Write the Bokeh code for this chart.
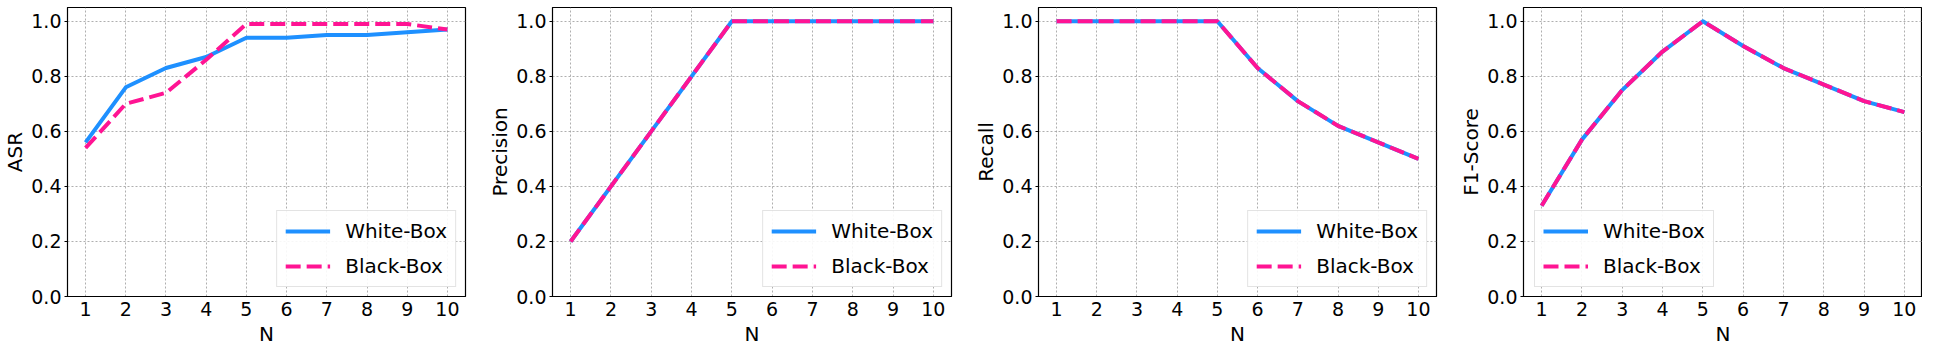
from bokeh.plotting import figure
from bokeh.layouts import row
from bokeh.models import FixedTicker, PrintfTickFormatter, Range1d, Legend, LegendItem
from bokeh.embed import file_html
from bokeh.resources import INLINE

N = [1, 2, 3, 4, 5, 6, 7, 8, 9, 10]

asr_white = [0.56, 0.76, 0.83, 0.87, 0.94, 0.94, 0.95, 0.95, 0.96, 0.97]
asr_black = [0.54, 0.70, 0.74, 0.86, 0.99, 0.99, 0.99, 0.99, 0.99, 0.97]

precision_white = [0.2, 0.4, 0.6, 0.8, 1.0, 1.0, 1.0, 1.0, 1.0, 1.0]
precision_black = [0.2, 0.4, 0.6, 0.8, 1.0, 1.0, 1.0, 1.0, 1.0, 1.0]

recall_white = [1.0, 1.0, 1.0, 1.0, 1.0, 0.83, 0.71, 0.62, 0.56, 0.50]
recall_black = [1.0, 1.0, 1.0, 1.0, 1.0, 0.83, 0.71, 0.62, 0.56, 0.50]

f1_white = [0.33, 0.57, 0.75, 0.89, 1.0, 0.91, 0.83, 0.77, 0.71, 0.67]
f1_black = [0.33, 0.57, 0.75, 0.89, 1.0, 0.91, 0.83, 0.77, 0.71, 0.67]

y_ticks = [0.0, 0.2, 0.4, 0.6, 0.8, 1.0]
series_names = ["White-Box", "Black-Box"]

# (y label, white, black, legend location, fig width, left border, right border)
panels = [
    ("ASR", asr_white, asr_black, "bottom_right", 485, 60, 20),
    ("Precision", precision_white, precision_black, "bottom_right", 486, 61, 20),
    ("Recall", recall_white, recall_black, "bottom_right", 485, 60, 20),
    ("F1-Score", f1_white, f1_black, "bottom_left", 466, 61, 0),
]

FONT = "DejaVu Sans"
BLUE = "#1e90ff"
PINK = "#ff1493"

figs = []
for ylabel, wb, bb, loc, w, bl, br in panels:
    p = figure(width=w, height=349, output_backend="svg",
               toolbar_location=None, x_range=Range1d(0.55, 10.45),
               y_range=Range1d(0, 1.05), min_border_left=bl,
               min_border_right=br, min_border_top=7, min_border_bottom=53)
    p.outline_line_color = "black"
    p.outline_line_width = 1.2
    for ax in (p.xaxis, p.yaxis):
        ax.axis_label_text_font = FONT
        ax.axis_label_text_font_size = "20px"
        ax.axis_label_text_font_style = "normal"
        ax.axis_label_text_color = "black"
        ax.major_label_text_font = FONT
        ax.major_label_text_font_size = "19px"
        ax.major_label_text_color = "black"
        ax.minor_tick_line_color = None
        ax.major_tick_in = 0
        ax.axis_line_color = "black"
        ax.major_tick_line_color = "black"
    p.xaxis.axis_label = "N"
    p.yaxis.axis_label = ylabel
    p.xaxis.ticker = FixedTicker(ticks=N)
    p.yaxis.ticker = FixedTicker(ticks=y_ticks)
    p.yaxis.formatter = PrintfTickFormatter(format="%.1f")
    p.xaxis.major_tick_out = 0
    p.yaxis.major_tick_out = 3
    p.xaxis.major_label_standoff = 5
    p.yaxis.major_label_standoff = 3
    p.xaxis.axis_label_standoff = 3
    p.yaxis.axis_label_standoff = 1
    p.grid.grid_line_color = "#9a9a9a"
    p.grid.grid_line_dash = "2 2"
    p.grid.grid_line_width = 0.8

    r1 = p.line(N, wb, line_color=BLUE, line_width=4, line_join="round")
    r2 = p.line(N, bb, line_color=PINK, line_width=4, line_dash="15 6")

    items = [LegendItem(label=series_names[0], renderers=[r1]),
             LegendItem(label=series_names[1], renderers=[r2])]
    if loc == "bottom_right":
        leg = Legend(items=items, location=loc, margin=9)
    else:
        leg = Legend(items=items, location=(11, 9))
    leg.label_text_font = FONT
    leg.label_text_font_size = "20px"
    leg.label_text_color = "black"
    leg.glyph_width = 45
    leg.glyph_height = 20
    leg.label_height = 20
    leg.label_standoff = 15
    leg.spacing = 11
    leg.padding = 8
    leg.border_line_color = "#c8c8c8"
    leg.border_line_width = 1.2
    leg.background_fill_color = "white"
    leg.background_fill_alpha = 0.9
    p.add_layout(leg, "center")
    figs.append(p)

layout = row(*figs, spacing=0)
open("out.html", "w").write(file_html(layout, INLINE))
